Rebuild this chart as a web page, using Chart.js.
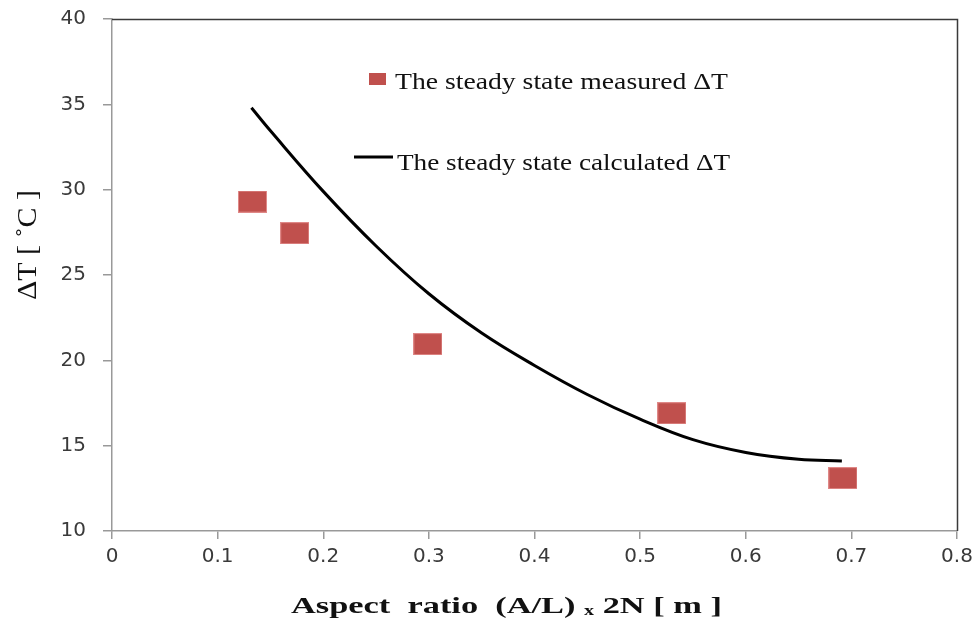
<!DOCTYPE html>
<html><head><meta charset="utf-8">
<script src="https://cdn.jsdelivr.net/npm/chart.js@4/dist/chart.umd.min.js"></script>
<style>html,body{margin:0;padding:0;background:#fff}#wrap{width:980px;height:619px;position:relative}</style>
</head><body><div id="wrap"><canvas id="c" width="980" height="619"></canvas></div>
<script>
// ---- data ----
const measuredX = [0.133, 0.173, 0.299, 0.530, 0.692];
const measuredY = [29.3, 27.45, 20.95, 16.9, 13.1];
const calcX = [0.132, 0.15, 0.2, 0.25, 0.3, 0.35, 0.4, 0.45, 0.5, 0.55, 0.6, 0.65, 0.691];
const calcY = [34.8, 33.45, 29.9, 26.7, 23.9, 21.6, 19.7, 18.0, 16.55, 15.35, 14.6, 14.2, 14.1];
const xTicks = [0, 0.1, 0.2, 0.3, 0.4, 0.5, 0.6, 0.7, 0.8];
const yTicks = [10, 15, 20, 25, 30, 35, 40];
const seriesNames = ["The steady state measured \u0394T", "The steady state calculated \u0394T"];
const yTitle = "\u0394T [ \u02DAC ]";
const xTitleParts = ["Aspect  ratio  (A/L) ", "x", " 2N [ m ]"];

// ---- styles ----
const RED = "#C0504D";
const marker = document.createElement("canvas");
marker.width = 29; marker.height = 22;
(function(){ const g = marker.getContext("2d"); g.fillStyle = RED; g.fillRect(0,0,29,22); g.strokeStyle="rgba(230,150,150,0.8)"; g.lineWidth=1; g.strokeRect(0.5,0.5,28,21);})();

function fitText(ctx, text, x, y, font, width, align) {
  ctx.save();
  ctx.font = font;
  const w = ctx.measureText(text).width;
  const s = width / w;
  ctx.translate(x, y);
  ctx.scale(s, 1);
  ctx.textAlign = align || "left";
  ctx.fillText(text, 0, 0);
  ctx.restore();
}

const decor = {
  id: "decor",
  afterDraw(chart) {
    const ctx = chart.ctx, a = chart.chartArea;
    ctx.save();
    // top + right frame
    ctx.strokeStyle = "#3a3a3a"; ctx.lineWidth = 1.5;
    ctx.beginPath();
    ctx.moveTo(a.left, a.top + 0.5); ctx.lineTo(a.right + 0.5, a.top + 0.5); ctx.lineTo(a.right + 0.5, a.bottom);
    ctx.stroke();
    // legend
    ctx.fillStyle = RED; ctx.fillRect(369, 73, 17, 12);
    ctx.strokeStyle = "#000"; ctx.lineWidth = 3;
    ctx.beginPath(); ctx.moveTo(354, 157); ctx.lineTo(393, 157); ctx.stroke();
    ctx.fillStyle = "#111";
    ctx.textBaseline = "alphabetic";
    fitText(ctx, seriesNames[0], 395, 89, "24px 'Liberation Serif'", 333);
    fitText(ctx, seriesNames[1], 397, 170, "24px 'Liberation Serif'", 333);
    // y title
    ctx.save();
    ctx.translate(36, 245);
    ctx.rotate(-Math.PI / 2);
    fitText(ctx, yTitle, 0, 0, "28px 'Liberation Serif'", 110, "center");
    ctx.restore();
    // x title with small x
    const big = "bold 24px 'Liberation Serif'", small = "bold 14px 'Liberation Serif'";
    ctx.font = big; const w0 = ctx.measureText(xTitleParts[0]).width, w2 = ctx.measureText(xTitleParts[2]).width;
    ctx.font = small; const w1 = ctx.measureText(xTitleParts[1]).width;
    const s = 431 / (w0 + w1 + w2);
    ctx.save();
    ctx.translate(291, 613); ctx.scale(s, 1);
    ctx.textAlign = "left";
    ctx.font = big; ctx.fillText(xTitleParts[0], 0, 0);
    ctx.font = small; ctx.fillText(xTitleParts[1], w0, 2);
    ctx.font = big; ctx.fillText(xTitleParts[2], w0 + w1, 0);
    ctx.restore();
    ctx.restore();
  }
};

new Chart(document.getElementById("c"), {
  type: "scatter",
  data: {
    datasets: [
      {
        label: seriesNames[1],
        type: "line",
        data: calcX.map((x, i) => ({ x: x, y: calcY[i] })),
        borderColor: "#000",
        borderWidth: 3,
        pointRadius: 0,
        tension: 0.4,
        fill: false,
        order: 2
      },
      {
        label: seriesNames[0],
        data: measuredX.map((x, i) => ({ x: x, y: measuredY[i] })),
        pointStyle: marker,
        pointRadius: 14,
        backgroundColor: RED,
        order: 1
      }
    ]
  },
  options: {
    responsive: false,
    animation: false,
    layout: { padding: { left: 0, right: 23, top: 19, bottom: 0 } },
    plugins: { legend: { display: false }, tooltip: { enabled: false }, title: { display: false } },
    scales: {
      x: {
        type: "linear", min: 0, max: 0.8,
        afterBuildTicks: (ax) => { ax.ticks = xTicks.map(v => ({ value: v })); },
        afterFit: (ax) => { ax.height = 88; ax.paddingLeft = 0; ax.paddingRight = 0; },
        border: { display: true, color: "#999", width: 1.5 },
        grid: { display: true, drawOnChartArea: false, drawTicks: true, tickLength: 8, color: "#999", lineWidth: 1.5 },
        ticks: { padding: 6, color: "#3a3a3a", font: { family: "'DejaVu Sans'", size: 20 }, maxRotation: 0,
          callback: (v) => String(v) }
      },
      y: {
        type: "linear", min: 10, max: 40,
        afterBuildTicks: (ax) => { ax.ticks = yTicks.map(v => ({ value: v })); },
        afterFit: (ax) => { ax.width = 112; ax.paddingTop = 0; ax.paddingBottom = 0; },
        border: { display: true, color: "#999", width: 1.5 },
        grid: { display: true, drawOnChartArea: false, drawTicks: true, tickLength: 9, color: "#999", lineWidth: 1.5 },
        ticks: { padding: 17, color: "#3a3a3a", font: { family: "'DejaVu Sans'", size: 20 },
          callback: (v) => String(v) }
      }
    }
  },
  plugins: [decor]
});
</script>
</body></html>
